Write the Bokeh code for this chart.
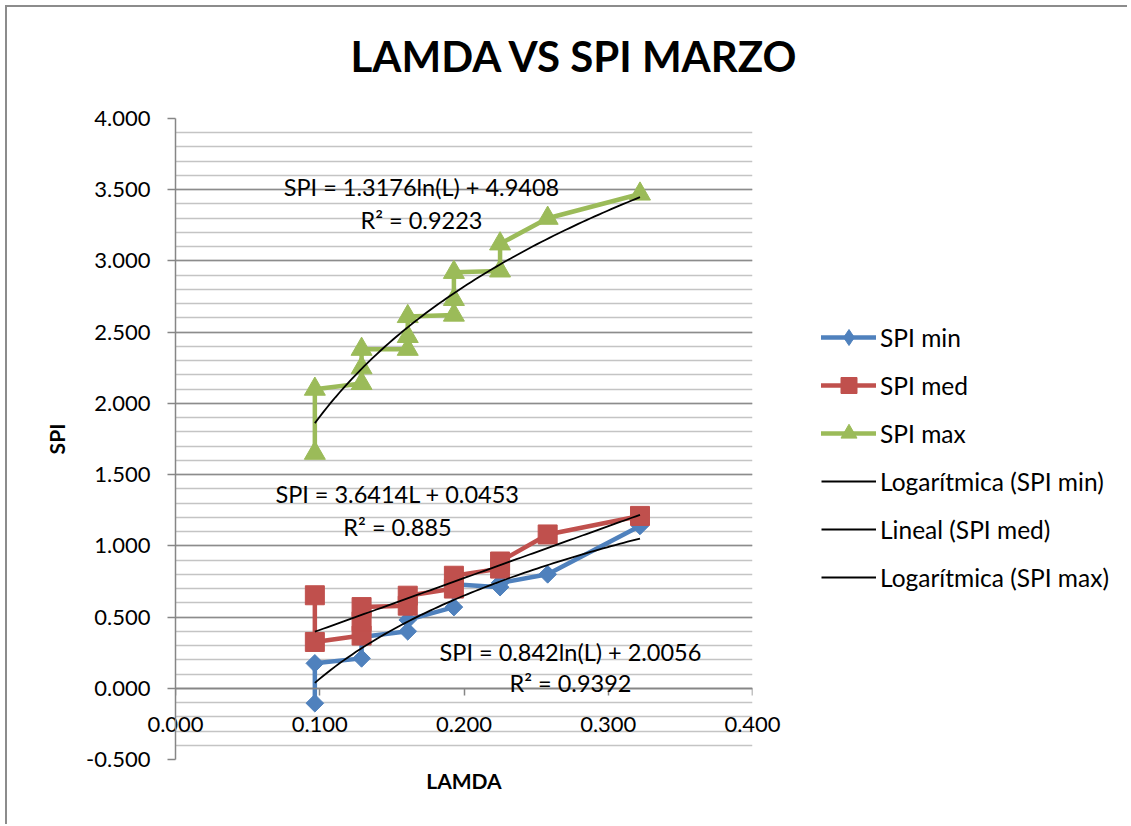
import math
import numpy as np
from bokeh.plotting import figure
from bokeh.layouts import column, row
from bokeh.models import (Range1d, NumeralTickFormatter, SingleIntervalTicker, LinearAxis,
                          Legend, LegendItem, Label)
from bokeh.embed import file_html
from bokeh.resources import INLINE

# ---------------- data ----------------
lam_min = [0.0966, 0.0966, 0.129, 0.129, 0.161, 0.161, 0.193, 0.193, 0.225, 0.225, 0.258, 0.322]
spi_min = [-0.105, 0.175, 0.21, 0.36, 0.40, 0.48, 0.57, 0.73, 0.71, 0.74, 0.80, 1.14]

lam_med = [0.0966, 0.0966, 0.129, 0.129, 0.129, 0.161, 0.161, 0.193, 0.193, 0.225, 0.225, 0.258, 0.322]
spi_med = [0.653, 0.325, 0.37, 0.47, 0.57, 0.58, 0.65, 0.70, 0.79, 0.84, 0.89, 1.08, 1.21]

lam_max = [0.0966, 0.0966, 0.129, 0.129, 0.129, 0.161, 0.161, 0.161, 0.193, 0.193, 0.193,
           0.225, 0.225, 0.258, 0.322]
spi_max = [1.65, 2.10, 2.14, 2.25, 2.38, 2.38, 2.47, 2.61, 2.62, 2.73, 2.92, 2.93, 3.12, 3.30, 3.47]

# trendline equations shown on the chart
log_min_a, log_min_b = 0.842, 2.0056     # SPI = a ln(L) + b
lin_med_a, lin_med_b = 3.6414, 0.0453    # SPI = a L + b
log_max_a, log_max_b = 1.3176, 4.9408    # SPI = a ln(L) + b

eq_min = ["SPI = 0.842ln(L) + 2.0056", "R² = 0.9392"]
eq_med = ["SPI = 3.6414L + 0.0453", "R² = 0.885"]
eq_max = ["SPI = 1.3176ln(L) + 4.9408", "R² = 0.9223"]

legend_labels = ["SPI min", "SPI med", "SPI max",
                 "Logarítmica (SPI min)", "Lineal (SPI med)", "Logarítmica (SPI max)"]

title_text = "LAMDA VS SPI MARZO"
x_title = "LAMDA"
y_title = "SPI"

BLUE = "#4F81BD"
RED = "#C0504D"
GREEN = "#9BBB59"
FONT = "Lato"
TXT = "22px"
LW = 4.5

# ---------------- title strip ----------------
pt = figure(width=1120, height=95, output_backend="svg", toolbar_location=None,
            x_range=Range1d(0, 1120), y_range=Range1d(0, 95),
            x_axis_type=None, y_axis_type=None, min_border=0)
pt.outline_line_color = None
pt.add_layout(Label(x=567.5, y=47, text=title_text, text_align="center", text_baseline="middle",
                    text_font=FONT, text_font_style="bold", text_font_size="42px",
                    text_color="black"))

# ---------------- main chart ----------------
p = figure(frame_width=577, frame_height=641, output_backend="svg", toolbar_location=None,
           x_range=Range1d(0, 0.4), y_range=Range1d(-0.5, 4.0),
           min_border_left=168, min_border_right=35, min_border_top=16, min_border_bottom=65)
p.outline_line_color = None

# y axis
yax = p.yaxis[0]
yax.ticker = SingleIntervalTicker(interval=0.5, num_minor_ticks=5)
yax.formatter = NumeralTickFormatter(format="0.000")
yax.axis_line_color = "#868686"
yax.axis_line_width = 1.5
yax.major_tick_line_color = "#868686"
yax.major_tick_line_width = 1.5
yax.major_tick_out = 8
yax.major_tick_in = 0
yax.minor_tick_line_color = None
yax.major_label_text_font = FONT
yax.major_label_text_font_size = TXT
yax.major_label_text_color = "black"
yax.major_label_standoff = 17
yax.axis_label = y_title
yax.axis_label_text_font = FONT
yax.axis_label_text_font_style = "bold"
yax.axis_label_text_font_size = "21px"
yax.axis_label_text_color = "black"
yax.axis_label_standoff = 14

x_ticker = SingleIntervalTicker(interval=0.1, num_minor_ticks=0)

# bottom axis: tick labels (shifted up next to SPI = 0) and axis title
xax = p.xaxis[0]
xax.ticker = x_ticker
xax.formatter = NumeralTickFormatter(format="0.000")
xax.axis_line_color = None
xax.major_tick_line_color = None
xax.major_tick_out = 0
xax.major_tick_in = 0
xax.minor_tick_line_color = None
xax.major_label_text_font = FONT
xax.major_label_text_font_size = TXT
xax.major_label_text_color = "black"
xax.major_label_standoff = -43
xax.axis_label = x_title
xax.axis_label_text_font = FONT
xax.axis_label_text_font_style = "bold"
xax.axis_label_text_font_size = "21px"
xax.axis_label_text_color = "black"
xax.axis_label_standoff = 33

# axis line and ticks crossing at SPI = 0
x0 = LinearAxis(fixed_location=0, ticker=x_ticker)
x0.axis_line_color = "#868686"
x0.axis_line_width = 1.5
x0.major_tick_line_color = "#868686"
x0.major_tick_line_width = 1.5
x0.major_tick_out = 7
x0.major_tick_in = 0
x0.minor_tick_line_color = None
x0.major_label_text_color = None
p.add_layout(x0, "below")

# grids
p.xgrid.grid_line_color = None
p.ygrid.grid_line_color = "#8c8c8c"
p.ygrid.grid_line_width = 1.5
p.ygrid.minor_grid_line_color = "#c4c4c4"
p.ygrid.minor_grid_line_width = 1.5

# series
p.line(lam_min, spi_min, line_color=BLUE, line_width=LW, line_join="round", line_cap="round")
p.scatter(lam_min, spi_min, marker="square", angle=math.pi / 4, size=12.5,
          fill_color=BLUE, line_color=BLUE)
p.line(lam_med, spi_med, line_color=RED, line_width=LW, line_join="round", line_cap="round")
p.scatter(lam_med, spi_med, marker="square", size=19, fill_color=RED, line_color=RED)
p.line(lam_max, spi_max, line_color=GREEN, line_width=LW, line_join="round", line_cap="round")
p.scatter(lam_max, spi_max, marker="triangle", size=21, fill_color=GREEN, line_color=GREEN)

# trendlines
x_lo = min(lam_min + lam_med + lam_max)
x_hi = max(lam_min + lam_med + lam_max)
xs = np.linspace(x_lo, x_hi, 80)
p.line(xs, log_min_a * np.log(xs) + log_min_b, line_color="black", line_width=1.8)
p.line(xs, lin_med_a * xs + lin_med_b, line_color="black", line_width=1.8)
p.line(xs, log_max_a * np.log(xs) + log_max_b, line_color="black", line_width=1.8)

# equation labels
def add_eq(lines, x, y1, y2):
    for txt, yy in zip(lines, (y1, y2)):
        p.add_layout(Label(x=x, y=yy, text=txt, text_align="center", text_baseline="middle",
                           text_font=FONT, text_font_size="23.5px", text_color="black"))

add_eq(eq_max, 0.1705, 3.518, 3.287)
add_eq(eq_med, 0.1539, 1.362, 1.131)
add_eq(eq_min, 0.2738, 0.253, 0.035)

# ---------------- legend panel ----------------
pl = figure(width=340, height=702, output_backend="svg", toolbar_location=None,
            x_range=Range1d(0, 1), y_range=Range1d(0, 1),
            x_axis_type=None, y_axis_type=None, min_border=0)
pl.outline_line_color = None
off = [-10]  # keys drawn outside the visible range; only their legend swatches show
k1l = pl.line(off, off, line_color=BLUE, line_width=LW, line_cap="round")
k1m = pl.scatter(off, off, marker="diamond", size=24, fill_color=BLUE, line_color=BLUE)
k2l = pl.line(off, off, line_color=RED, line_width=LW, line_cap="round")
k2m = pl.scatter(off, off, marker="square", size=19, fill_color=RED, line_color=RED)
k3l = pl.line(off, off, line_color=GREEN, line_width=LW, line_cap="round")
k3m = pl.scatter(off, off, marker="triangle", size=21, fill_color=GREEN, line_color=GREEN)
k4 = pl.line(off, off, line_color="black", line_width=1.8)
k5 = pl.line(off, off, line_color="black", line_width=1.8)
k6 = pl.line(off, off, line_color="black", line_width=1.8)

rends = [[k1l, k1m], [k2l, k2m], [k3l, k3m], [k4], [k5], [k6]]
legend = Legend(items=[LegendItem(label=lab, renderers=r) for lab, r in zip(legend_labels, rends)],
                location=(34, 142))
legend.padding = 0
legend.margin = 0
legend.spacing = 8
legend.glyph_width = 55
legend.glyph_height = 40
legend.label_height = 20
legend.label_standoff = 4
legend.label_text_font = FONT
legend.label_text_font_size = "24.5px"
legend.label_text_color = "black"
legend.border_line_color = None
legend.background_fill_alpha = 0
pl.add_layout(legend)

layout = column(pt, row(p, pl))
layout.styles = {"margin-left": "5px", "margin-top": "5px",
                 "border-left": "2px solid #8c8c8c", "border-top": "2px solid #8c8c8c"}

open("out.html", "w").write(file_html(layout, INLINE))
